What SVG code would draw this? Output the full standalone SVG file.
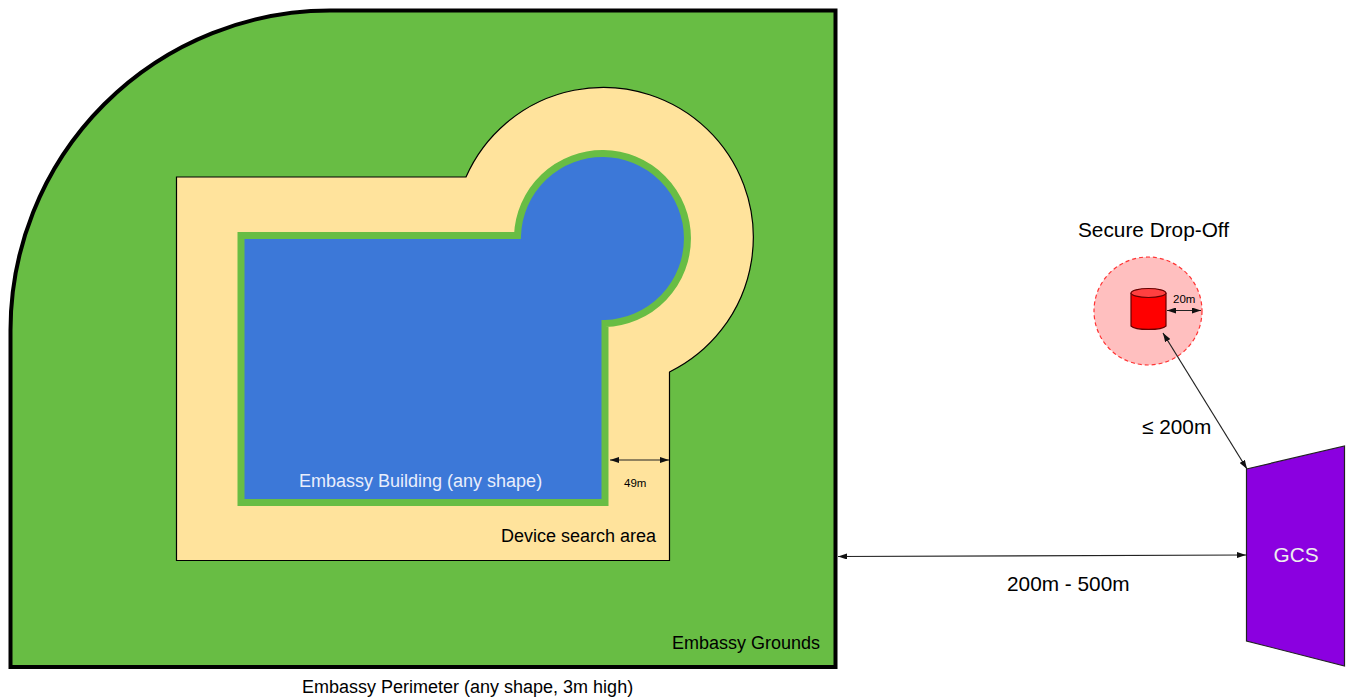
<svg xmlns="http://www.w3.org/2000/svg" width="1351" height="700" viewBox="0 0 1351 700">
<defs>
<marker id="a" viewBox="0 0 10 10" refX="10" refY="5" markerWidth="9" markerHeight="6" markerUnits="userSpaceOnUse" orient="auto-start-reverse" preserveAspectRatio="none"><path d="M0,0L10,5L0,10Z" fill="#111"/></marker>
</defs>
<style>
text{font-family:"Liberation Sans",Arial,sans-serif;fill:#000}
.c{fill:none;stroke:#222;stroke-width:1.200;marker-start:url(#a);marker-end:url(#a)}
</style>
<rect width="1351" height="700" fill="#fff"/>
<g id="grounds">
<path d="M10.500,667V330A320,320 0 0 1 330,10.500H835.500V667Z" fill="#68bd44" stroke="#000" stroke-width="4"/>
<text x="672" y="649" font-size="18">Embassy Grounds</text>
</g>
<text id="perimeter-label" x="302" y="693" font-size="18">Embassy Perimeter (any shape, 3m high)</text>
<g id="search-area">
<path d="M176.500,177H466A150,150 0 1 1 669.500,372V560.500H176.500Z" fill="#ffe39c" stroke="#000" stroke-width="1.200"/>
<text x="501" y="542" font-size="18">Device search area</text>
</g>
<g id="building">
<path d="M241,235.500H517.500A85,85 0 1 1 605,323.500V502.500H241Z" fill="#3c78d8" stroke="#68bd44" stroke-width="7"/>
<text x="299" y="487" font-size="18" style="fill:#e8eefc">Embassy Building (any shape)</text>
</g>
<g id="drop-off">
<text x="1078" y="237" font-size="20.800">Secure Drop-Off</text>
<circle cx="1148" cy="311" r="54" fill="#ffbfbf" stroke="#f33" stroke-width="1.200" stroke-dasharray="4 3"/>
</g>
<g id="cylinder">
<path d="M1131,293.500V326A18,4.500 0 0 0 1166,326V293.500Z" fill="#f00" stroke="#600" stroke-width="1.200"/>
<ellipse cx="1148.500" cy="293" rx="17.500" ry="4.500" fill="#ff4040" stroke="#600" stroke-width="1.200"/>
<text x="1173" y="302.500" font-size="11.500">20m</text>
</g>
<g id="gcs">
<path d="M1246.500,469L1344.500,446V666L1246.500,641Z" fill="#8b00e0" stroke="#222" stroke-width="1.200"/>
<text x="1296" y="562" font-size="20.800" text-anchor="middle" style="fill:#eee">GCS</text>
</g>
<g id="connectors">
<path class="c" d="M1167,310.500H1201"/>
<path class="c" d="M1163,333L1247,469"/>
<path class="c" d="M610,460H669"/>
<path class="c" d="M838,556.500L1246,555"/>
</g>
<text x="1142" y="434" font-size="20.800">≤ 200m</text>
<text x="1007" y="591" font-size="20.800">200m - 500m</text>
<text x="624" y="487" font-size="11.500">49m</text>
</svg>
